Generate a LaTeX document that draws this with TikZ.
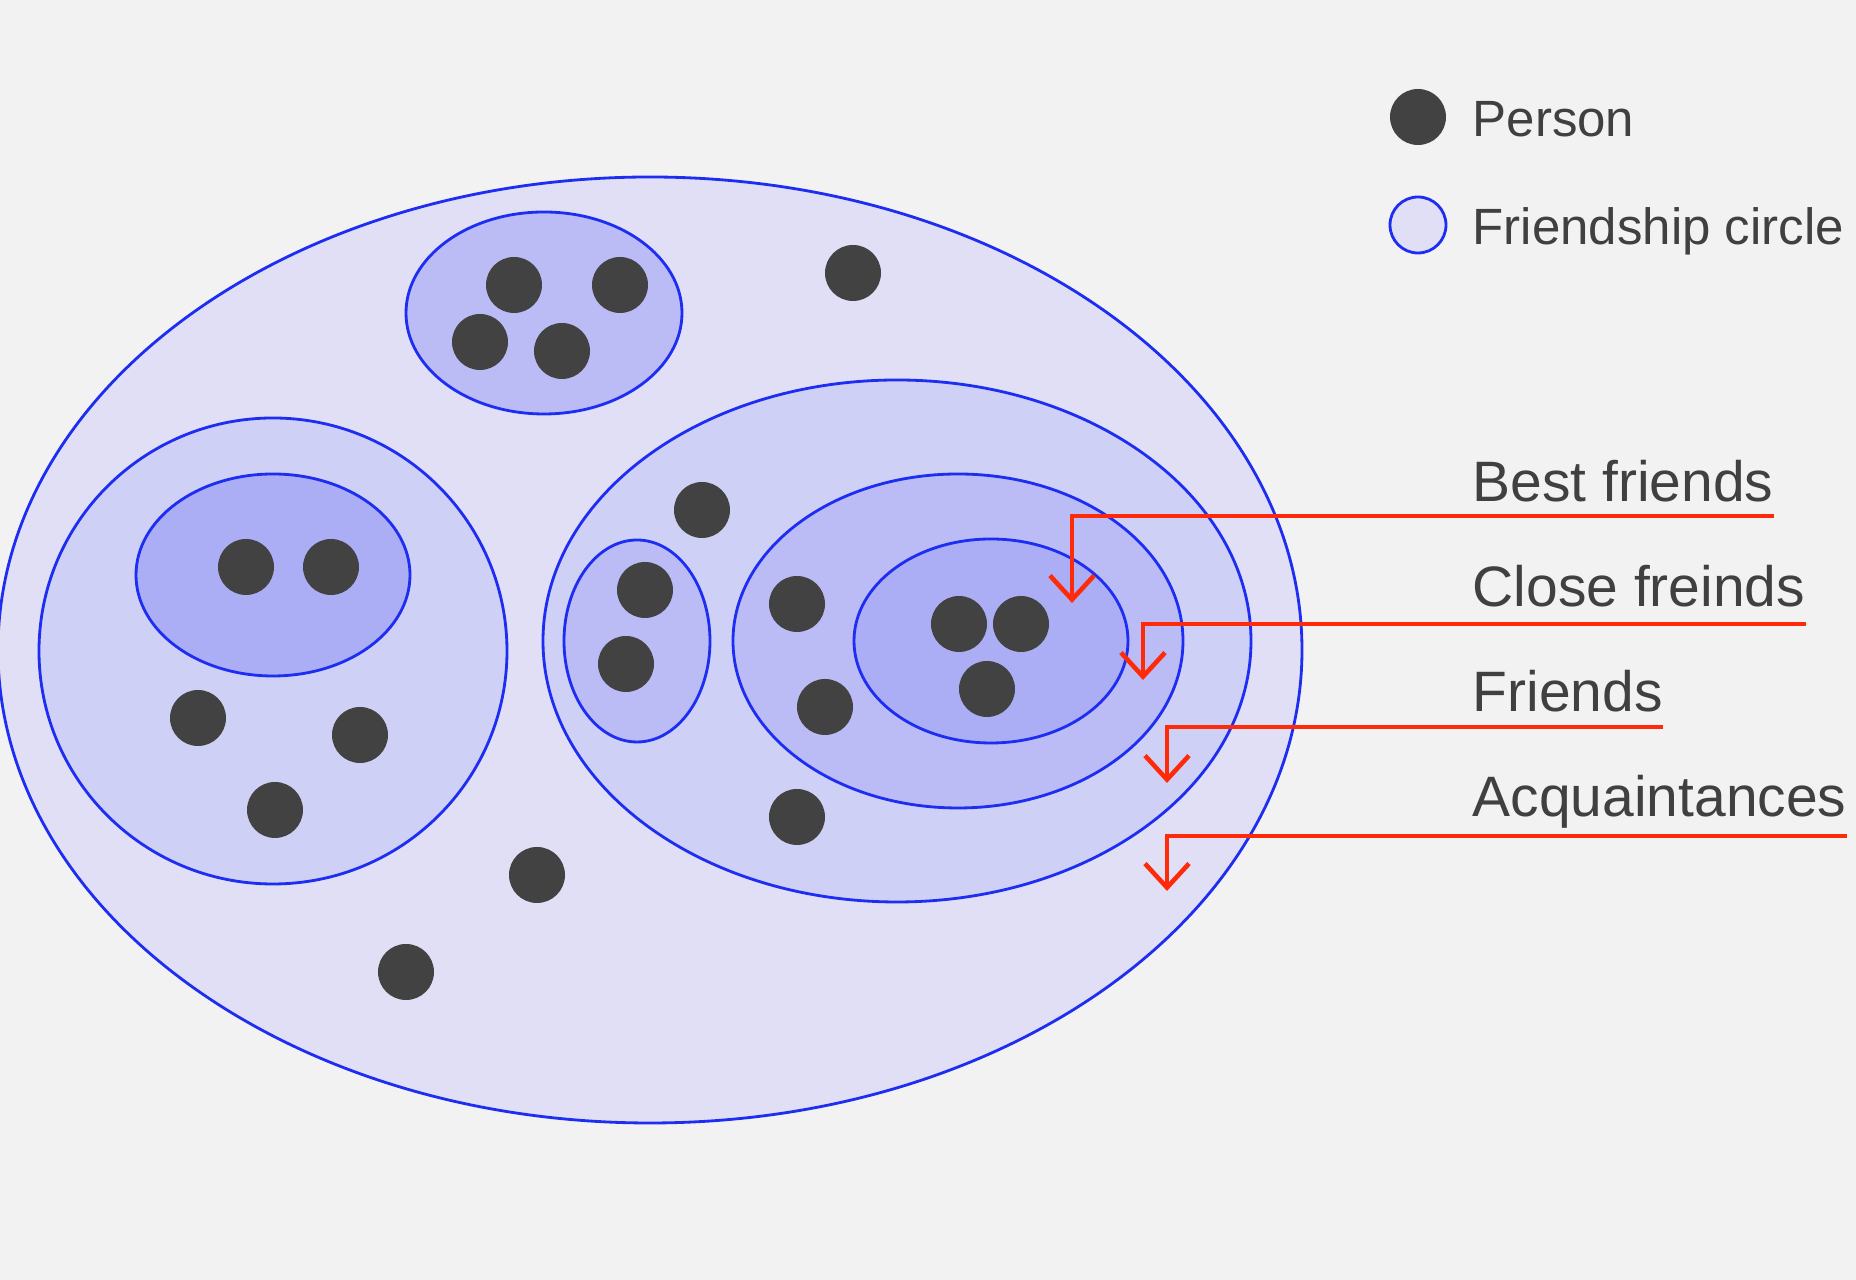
\documentclass[tikz,border=0pt]{standalone}
\usepackage{fontspec}
\setmainfont{Liberation Sans}
\usetikzlibrary{arrows.meta,positioning}

\definecolor{bgcol}{HTML}{F2F2F2}
\definecolor{ringA}{HTML}{E0DFF5}
\definecolor{ringB}{HTML}{CFD0F5}
\definecolor{ringC}{HTML}{BBBCF5}
\definecolor{ringD}{HTML}{ABAEF4}
\definecolor{ringline}{HTML}{1E2DF2}
\definecolor{personcol}{HTML}{424242}
\definecolor{pointercol}{HTML}{FF2A0A}
\definecolor{textcol}{HTML}{404040}

\tikzset{
  ring/.style={draw=ringline, line width=0.8pt},
  person/.style={fill=personcol},
  pointer/.style={draw=pointercol, line width=1.3pt,
    -{Straight Barb[length=0.24cm,width=0.44cm,line width=1.3pt]}},
  lbl/.style={inner sep=0pt, anchor=base west, text=textcol,
    font=\fontsize{16.2}{19}\selectfont},
  keylbl/.style={inner sep=0pt, anchor=base west, text=textcol,
    font=\fontsize{14.5}{17}\selectfont},
}

\begin{document}
\begin{tikzpicture}[x=0.01cm, y=-0.01cm]
    \useasboundingbox (0,0) rectangle (1856,1280);
    \clip (0,0) rectangle (1856,1280);
    \fill[bgcol] (0,0) rectangle (1856,1280);

    % Acquaintances
    \filldraw[ring, fill=ringA] (650,650) ellipse [x radius=652, y radius=473];

    % Groups inside
    \filldraw[ring, fill=ringC] (544,313) ellipse [x radius=138, y radius=101];
    \filldraw[ring, fill=ringB] (273,651) ellipse [x radius=234, y radius=233];
    \filldraw[ring, fill=ringD] (273,575) ellipse [x radius=137, y radius=101];
    \filldraw[ring, fill=ringB] (897,641) ellipse [x radius=354, y radius=261];
    \filldraw[ring, fill=ringC] (637,641) ellipse [x radius=73, y radius=101];
    \filldraw[ring, fill=ringC] (958,641) ellipse [x radius=225, y radius=167];
    \filldraw[ring, fill=ringD] (991,641) ellipse [x radius=137, y radius=102];

    % People
    \foreach \px/\py in {514/285, 620/285, 480/342, 562/351,
                         246/567, 331/567, 198/718, 360/735, 275/810,
                         645/590, 626/664, 959/624, 1021/624, 987/689,
                         702/510, 797/604, 825/707, 797/817,
                         853/273, 537/875, 406/972}
        \fill[person] (\px,\py) circle (28);

    % Key
    \fill[person] (1418,117) circle (28);
    \node[keylbl] (personkey) at (1472,137) {Person};
    \filldraw[ring, fill=ringA] (1418,225) circle (28);
    \node[keylbl] (ringkey) at (1472,245) {Friendship circle};

    % Labels with pointers
    \node[lbl] (bestlbl) at (1472,502) {Best friends};
    \node[lbl] (closelbl) at (1472,607) {Close freinds};
    \node[lbl] (friendslbl) at (1472,712) {Friends};
    \node[lbl] (acqlbl) at (1472,817) {Acquaintances};
    \coordinate (bestpt) at (1072,603);
    \coordinate (closept) at (1143,680);
    \coordinate (friendspt) at (1167,783);
    \coordinate (acqpt) at (1167,891);
    \draw[pointer] ([yshift=-0.14cm]bestlbl.base east) -| (bestpt);
    \draw[pointer] ([yshift=-0.17cm]closelbl.base east) -| (closept);
    \draw[pointer] ([yshift=-0.15cm]friendslbl.base east) -| (friendspt);
    \draw[pointer] ([yshift=-0.19cm]acqlbl.base east) -| (acqpt);
\end{tikzpicture}
\end{document}
